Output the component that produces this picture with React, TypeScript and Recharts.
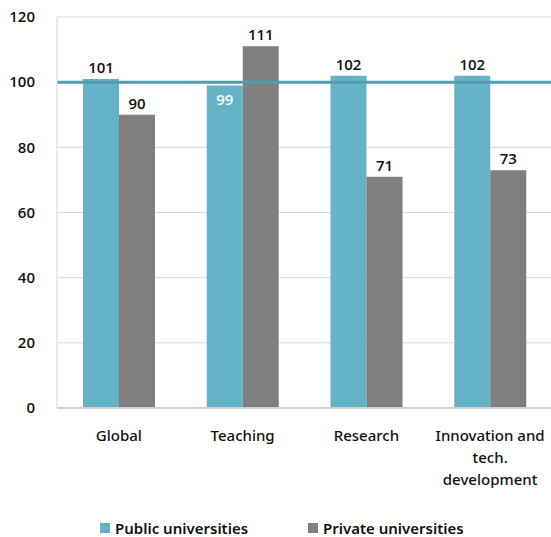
import { BarChart, Bar, XAxis, YAxis, CartesianGrid, ReferenceLine, LabelList, Legend } from 'recharts';

const categories = ['Global', 'Teaching', 'Research', 'Innovation and\ntech.\ndevelopment'];
const publicValues = [101, 99, 102, 102];
const privateValues = [90, 111, 71, 73];
const yTicks = [0, 20, 40, 60, 80, 100, 120];

const PUBLIC_COLOR = '#64b3c6';
const PRIVATE_COLOR = '#7f7f7f';
const LINE_COLOR = '#4f9dad';
const NUM_FONT = '"Open Sans", sans-serif';
const CAT_FONT = '"Noto Sans", sans-serif';

const data = categories.map((name, i) => ({
  name,
  pub: publicValues[i],
  priv: privateValues[i],
}));

function CategoryTick({ x, y, payload }: any) {
  const lines = String(payload.value).split('\n');
  return (
    <text x={x} y={y + 25} textAnchor="middle" fontFamily={CAT_FONT} fontSize={15} fontWeight={500} fill="#111">
      {lines.map((l, i) => (
        <tspan key={i} x={x} dy={i === 0 ? 0 : 22}>
          {l}
        </tspan>
      ))}
    </text>
  );
}

function PublicLabel(props: any) {
  const { x, y, width, value } = props;
  // the 99 bar sits below the 100 line, so its label goes inside in white
  const inside = value < 100;
  return (
    <text
      x={x + width / 2}
      y={inside ? y + 20 : y - 6}
      textAnchor="middle"
      fontFamily={NUM_FONT}
      fontSize={15}
      fontWeight={600}
      fill={inside ? '#ffffff' : '#111'}
    >
      {value}
    </text>
  );
}

function PrivateLabel(props: any) {
  const { x, y, width, value } = props;
  return (
    <text x={x + width / 2} y={y - 6} textAnchor="middle" fontFamily={NUM_FONT} fontSize={15} fontWeight={600} fill="#111">
      {value}
    </text>
  );
}

function LegendContent() {
  const items = [
    { label: 'Public universities', color: PUBLIC_COLOR, left: 100 },
    { label: 'Private universities', color: PRIVATE_COLOR, left: 308 },
  ];
  return (
    <div style={{ position: 'relative', height: 20, fontFamily: CAT_FONT, fontSize: 15, fontWeight: 600, color: '#111' }}>
      {items.map((it) => (
        <div key={it.label} style={{ position: 'absolute', left: it.left, top: 0, display: 'flex', alignItems: 'center', whiteSpace: 'nowrap' }}>
          <span style={{ width: 10, height: 10, background: it.color, display: 'inline-block', marginRight: 5 }} />
          {it.label}
        </div>
      ))}
    </div>
  );
}

export default function App() {
  return (
    <div style={{ position: 'absolute', left: 0, top: 0, width: 551, height: 537, overflow: 'hidden', background: '#fff' }}>
      <BarChart width={552} height={537} data={data} margin={{ top: 17, right: 0, left: 0, bottom: 0 }} barGap={0} barSize={36}>
        <CartesianGrid vertical={false} stroke="#d9d9d9" />
        <XAxis
          dataKey="name"
          height={109}
          interval={0}
          tick={<CategoryTick />}
          tickLine={false}
          axisLine={{ stroke: '#d0d0d0', strokeWidth: 2 }}
        />
        <YAxis
          width={57}
          domain={[0, 120]}
          ticks={yTicks}
          tickLine={false}
          axisLine={{ stroke: '#d9d9d9' }}
          tick={{ fontFamily: NUM_FONT, fontSize: 15, fontWeight: 600, fill: '#111' }}
          tickMargin={16}
        />
        <Bar dataKey="pub" name="Public universities" fill={PUBLIC_COLOR} isAnimationActive={false}>
          <LabelList dataKey="pub" content={<PublicLabel />} />
        </Bar>
        <Bar dataKey="priv" name="Private universities" fill={PRIVATE_COLOR} isAnimationActive={false}>
          <LabelList dataKey="priv" content={<PrivateLabel />} />
        </Bar>
        <ReferenceLine y={100} stroke={LINE_COLOR} strokeWidth={3} ifOverflow="extendDomain" />
        <Legend content={<LegendContent />} wrapperStyle={{ top: 518, left: 0, width: 551 }} />
      </BarChart>
    </div>
  );
}
